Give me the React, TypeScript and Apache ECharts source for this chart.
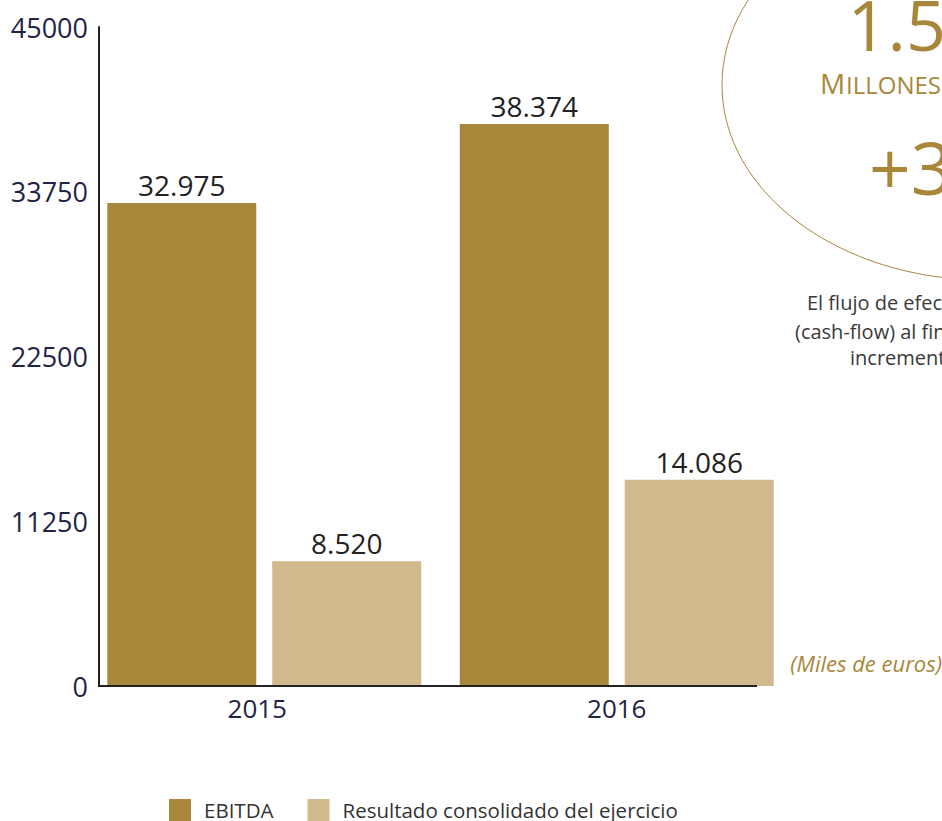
import React, { useEffect, useRef } from "react";
import * as echarts from "echarts";

const years = ["2015", "2016"];
const ebitda = [32975, 38374];
const resultado = [8520, 14086];
const seriesNames = ["EBITDA", "Resultado consolidado del ejercicio"];
const yMax = 45000;
const yInterval = 11250;

const GOLD = "#a8873a";
const SAND = "#cfb98d";
const NAVY = "#1f2446";
const FONT = "'Open Sans', 'Noto Sans', sans-serif";

const fmt = (v: number) => String(v).replace(/\B(?=(\d{3})+(?!\d))/g, ".");

export default function App() {
  const ref = useRef<HTMLDivElement>(null);
  useEffect(() => {
    document.body.style.margin = "0";
    const chart = echarts.init(ref.current!, null, { renderer: "svg" });
    const label = {
      show: true,
      position: "top",
      distance: 4,
      fontSize: 28,
      color: "#222222",
      fontFamily: FONT,
      formatter: (p: any) => fmt(p.value),
    };
    chart.setOption({
      animation: false,
      backgroundColor: "#ffffff",
      textStyle: { fontFamily: FONT },
      grid: { left: 88, right: 149, top: 27, bottom: 135, containLabel: false },
      legend: {
        left: 169,
        top: 799,
        padding: 0,
        itemWidth: 22,
        itemHeight: 22,
        itemGap: 34,
        icon: "rect",
        textStyle: { fontSize: 20.5, color: "#333333", fontFamily: FONT, padding: [0, 0, 0, 8] },
        data: seriesNames,
      },
      xAxis: {
        type: "category",
        data: [
          { value: years[0], textStyle: { padding: [0, 14, 0, 0] } },
          { value: years[1] },
        ],
        axisLine: { show: false },
        axisTick: { show: false },
        axisLabel: { fontSize: 26, color: NAVY, margin: 9, fontFamily: FONT },
      },
      yAxis: {
        type: "value",
        min: 0,
        max: yMax,
        interval: yInterval,
        offset: -11,
        splitLine: { show: false },
        axisTick: { show: false },
        axisLine: { show: true, lineStyle: { color: "#222222", width: 2 } },
        axisLabel: {
          fontSize: 27,
          color: NAVY,
          margin: 11,
          fontFamily: FONT,
          formatter: (v: number) => String(v),
        },
      },
      series: [
        {
          name: seriesNames[0],
          type: "bar",
          data: ebitda,
          barWidth: 149,
          barGap: "10.7%",
          itemStyle: { color: GOLD },
          label,
        },
        {
          name: seriesNames[1],
          type: "bar",
          data: resultado,
          barWidth: 149,
          barGap: "10.7%",
          itemStyle: { color: SAND },
          label,
        },
      ],
      graphic: [
        {
          type: "line",
          shape: { x1: 98, y1: 686, x2: 757, y2: 686 },
          style: { stroke: "#222222", lineWidth: 2 },
          z: 10,
        },
        {
          type: "ellipse",
          shape: { cx: 985, cy: 85, rx: 263, ry: 195 },
          style: { fill: "none", stroke: GOLD, lineWidth: 1 },
        },
        {
          type: "text",
          x: 946,
          y: 24,
          style: {
            text: "1.5",
            fill: GOLD,
            font: `70px ${FONT}`,
            lineHeight: 46,
            textAlign: "right",
            textVerticalAlign: "middle",
          },
        },
        {
          type: "text",
          x: 820,
          y: 97,
          style: { text: "M", fill: GOLD, font: `28px ${FONT}`, textAlign: "left", textVerticalAlign: "bottom" },
        },
        {
          type: "text",
          x: 846,
          y: 96,
          style: { text: "ILLONES", fill: GOLD, font: `24px ${FONT}`, textAlign: "left", textVerticalAlign: "bottom" },
        },
        {
          type: "text",
          x: 869,
          y: 203,
          style: { text: "+3,", fill: GOLD, font: `73px ${FONT}`, textAlign: "left", textVerticalAlign: "bottom" },
        },
        {
          type: "text",
          x: 807,
          y: 302,
          style: { text: "El flujo de efectivo", fill: "#3a3a3a", font: `20px ${FONT}`, textAlign: "left", textVerticalAlign: "middle" },
        },
        {
          type: "text",
          x: 795,
          y: 331,
          style: { text: "(cash-flow) al final del", fill: "#3a3a3a", font: `20px ${FONT}`, textAlign: "left", textVerticalAlign: "middle" },
        },
        {
          type: "text",
          x: 850,
          y: 357,
          style: { text: "incrementado", fill: "#3a3a3a", font: `20px ${FONT}`, textAlign: "left", textVerticalAlign: "middle" },
        },
        {
          type: "text",
          x: 942,
          y: 663,
          style: {
            text: "(Miles de euros)",
            fill: GOLD,
            font: `italic 22px ${FONT}`,
            textAlign: "right",
            textVerticalAlign: "middle",
          },
        },
      ],
    });
    return () => chart.dispose();
  }, []);
  return <div ref={ref} style={{ width: 942, height: 821, overflow: "hidden" }} />;
}
